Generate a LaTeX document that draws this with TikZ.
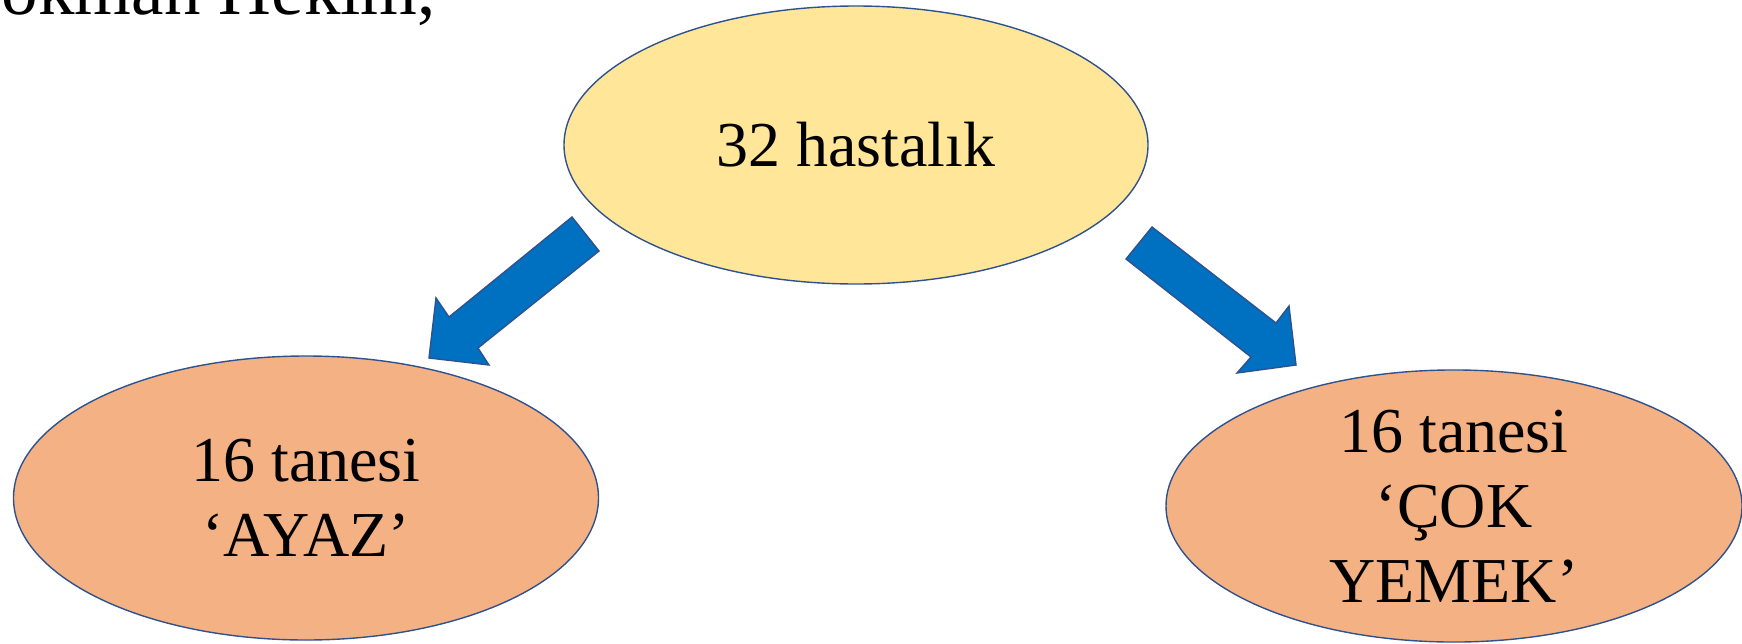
\documentclass[tikz,border=0pt]{standalone}
\usepackage{fontspec}
\setmainfont{Liberation Serif}
\usetikzlibrary{shapes.geometric}
\definecolor{edgeblue}{HTML}{2F528F}
\definecolor{arrowblue}{HTML}{0070C0}
\definecolor{topfill}{HTML}{FFE699}
\definecolor{leaffill}{HTML}{F4B183}
\tikzset{
  oval/.style={ellipse, draw=edgeblue, line width=1.4pt, inner sep=0pt, align=center,
    font=\fontsize{64}{75}\selectfont},
  bigarrow/.style={fill=arrowblue, draw=edgeblue, line width=1.4pt, line join=miter}
}
\begin{document}
\begin{tikzpicture}[x=1pt,y=-1pt]
\useasboundingbox (0,0) rectangle (1742,643);
\clip (0,0) rectangle (1742,643);
\node[anchor=base east, inner sep=0pt, font=\fontsize{73}{80}\selectfont] (title) at (436,14) {Lokman Hekim,};
\node[oval, fill=topfill, minimum width=584pt, minimum height=278pt] (top) at (856,145) {32 hastalık};
\node[oval, fill=leaffill, minimum width=585pt, minimum height=284pt] (left) at (306,498) {16 tanesi\\‘AYAZ’};
\node[oval, fill=leaffill, minimum width=576pt, minimum height=272pt] (right) at (1454,506) {16 tanesi\\‘ÇOK\\YEMEK’};
\draw[bigarrow] (572,217) -- (599,251) -- (478,348) -- (489,365) -- (429,358) -- (436,298) -- (449,317) -- cycle;
\draw[bigarrow] (1152,227) -- (1276,323) -- (1289,306) -- (1296,365) -- (1237,373) -- (1251,357) -- (1126,259) -- cycle;
\end{tikzpicture}
\end{document}
